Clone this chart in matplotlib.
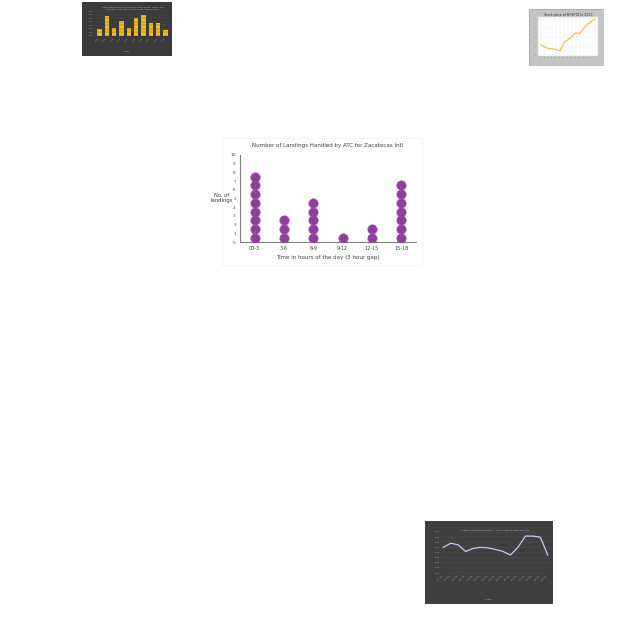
import matplotlib
matplotlib.use("Agg")
import matplotlib.pyplot as plt
from matplotlib.patches import Rectangle

# main dot plot
slots = ["00-3", "3-6", "6-9", "9-12", "12-15", "15-18"]
landings = [8, 3, 5, 1, 2, 7]
y_ticks = list(range(0, 11))

# thumbnail data
bar_vals = [2.0, 5.6, 2.2, 4.3, 2.2, 5.1, 5.8, 3.7, 3.7, 1.8]
price_vals = [0.30, 0.24, 0.20, 0.19, 0.17, 0.14, 0.36, 0.44, 0.52, 0.62, 0.60,
              0.74, 0.84, 0.93, 1.00]
share_vals = [50, 58, 55, 42, 48, 50, 49, 46, 42, 35, 50, 72, 72, 70, 35]

W = H = 640


def px_axes(fig, x0, y0, x1, y1):
    # pixel box (top-left origin) -> figure axes
    return fig.add_axes([x0 / W, 1 - y1 / H, (x1 - x0) / W, (y1 - y0) / H])


fig = plt.figure(figsize=(6.4, 6.4), dpi=100)
fig.patch.set_facecolor("white")

# faint chart frame around the main chart
fig.patches.append(Rectangle((222 / W, 1 - 265 / H), 200 / W, 127 / H,
                             transform=fig.transFigure, fill=False,
                             edgecolor="#f3f3f3", linewidth=0.6))

ax = px_axes(fig, 240, 155, 416, 242)
for i, n in enumerate(landings):
    ax.scatter([i] * n, [k + 0.5 for k in range(n)], s=46,
               color="#8e3f9b", edgecolors="#a052ad", linewidths=0.4,
               zorder=3)
ax.set_xlim(-0.5, len(slots) - 0.5)
ax.set_ylim(0, 10)
ax.set_xticks(range(len(slots)))
ax.set_xticklabels(slots, fontsize=3.5, color="#404040")
ax.set_yticks(y_ticks)
ax.set_yticklabels([str(t) for t in y_ticks], fontsize=3, color="#404040")
ax.tick_params(length=0, pad=3)
for s in ["top", "right"]:
    ax.spines[s].set_visible(False)
for s in ["left", "bottom"]:
    ax.spines[s].set_color("#7f7f7f")
    ax.spines[s].set_linewidth(0.8)
ax.set_title("Number of Landings Handled by ATC for Zacatecas Intl",
             fontsize=4, color="#404040", pad=6)
ax.set_xlabel("Time in hours of the day (3 hour gap)", fontsize=4,
              color="#404040", labelpad=3)
fig.text(222 / W, 1 - 198 / H, "No. of\nlandings", fontsize=3.8,
         color="#404040", ha="center", va="center")

# thumbnail 1: dark bar chart
bg1 = px_axes(fig, 82, 2, 172, 56)
bg1.set_facecolor("#3a3a3a")
bg1.set_xticks([])
bg1.set_yticks([])
for s in bg1.spines.values():
    s.set_visible(False)
t1 = px_axes(fig, 95, 11, 170, 36)
t1.patch.set_alpha(0)
t1.bar(range(len(bar_vals)), bar_vals, width=0.6, color="#f2c019")
t1.set_ylim(0, 7)
t1.set_xlim(-0.6, len(bar_vals) - 0.4)
t1.set_xticks(range(len(bar_vals)))
t1.set_xticklabels(["xxxx"] * len(bar_vals), rotation=45, fontsize=1.5,
                   color="#bbbbbb", ha="right")
t1.set_yticks(range(0, 8))
t1.set_yticklabels(["0000"] * 8, fontsize=1.3, color="#bbbbbb")
t1.tick_params(length=0, pad=1)
t1.grid(axis="y", color="#555555", linewidth=0.3)
for s in t1.spines.values():
    s.set_visible(False)
t1.set_title("xxxxx xxxxxxxx xx xxxxxxxx x xxx xxxxx  xxxxx xxx\nxxxxxxx  xxx xxxx  xxx xx x xxx xxxxxx xxxx",
             fontsize=1.6, color="#cccccc", pad=1)
fig.text(127 / W, 1 - 52 / H, "xxxxxx", fontsize=1.5, color="#bbbbbb",
         ha="center")

# thumbnail 2: stock price line
bg2 = px_axes(fig, 529, 9, 603, 65)
bg2.set_facecolor("#c4c4c4")
bg2.set_xticks([])
bg2.set_yticks([])
for s in bg2.spines.values():
    s.set_color("#a8a8a8")
    s.set_linewidth(0.5)
t2 = px_axes(fig, 538, 17, 598, 56)
t2.plot(range(len(price_vals)), price_vals, color="#f5b830", linewidth=0.8)
t2.set_facecolor("white")
t2.set_xticks(range(len(price_vals)))
t2.set_xticklabels(["xx"] * len(price_vals), fontsize=1.2, color="#555555")
t2.set_yticks([0, 0.25, 0.5, 0.75, 1.0])
t2.set_yticklabels(["xx"] * 5, fontsize=1.2, color="#555555")
t2.tick_params(length=0, pad=0.5)
t2.grid(color="#eeeeee", linewidth=0.3)
for s in t2.spines.values():
    s.set_color("#dddddd")
    s.set_linewidth(0.3)
t2.set_title("Stock price of NYSFTZ in 2015", fontsize=2.3, color="#333333",
             pad=1)

# thumbnail 3: dark line chart
bg3 = px_axes(fig, 425, 521, 553, 604)
bg3.set_facecolor("#404040")
bg3.set_xticks([])
bg3.set_yticks([])
for s in bg3.spines.values():
    s.set_visible(False)
t3 = px_axes(fig, 441, 532, 550, 573)
t3.patch.set_alpha(0)
t3.plot(range(len(share_vals)), share_vals, color="#c0cbf5", linewidth=0.9)
t3.set_ylim(0, 80)
t3.set_xlim(-0.3, len(share_vals) - 0.7)
t3.set_yticks(range(0, 81, 10))
t3.set_yticklabels(["00.00"] * 9, fontsize=1.3, color="#bbbbbb")
t3.set_xticks(range(len(share_vals)))
t3.set_xticklabels(["xxxxxxx"] * len(share_vals), rotation=45, fontsize=1.4,
                   color="#bbbbbb", ha="right")
t3.tick_params(length=0, pad=1)
t3.grid(axis="y", color="#555555", linewidth=0.3)
for s in t3.spines.values():
    s.set_visible(False)
t3.set_title("Share of canals allocated to ... (FAO, 2020) For the Year 2012",
             fontsize=1.6, color="#cccccc", pad=1)
fig.text(489 / W, 1 - 600 / H, "xxxxxx", fontsize=1.5, color="#bbbbbb",
         ha="center")

fig.savefig("out.png", dpi=100, facecolor="white")
